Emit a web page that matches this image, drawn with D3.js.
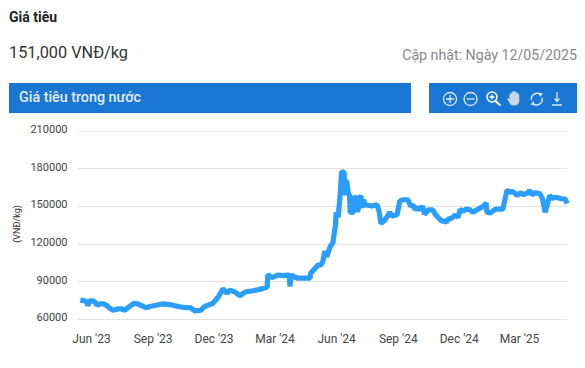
<!DOCTYPE html>
<html><head><meta charset="utf-8">
<script src="https://cdn.jsdelivr.net/npm/d3@7/dist/d3.min.js"></script>
<style>html,body{margin:0;padding:0;background:#fff}svg{display:block}text{font-family:Roboto,sans-serif}</style>
</head><body><svg id="c" width="585" height="368"></svg>
<script>
const dates=["2023-05-16","2023-05-22","2023-05-26","2023-05-27","2023-05-30","2023-06-03","2023-06-07","2023-06-10","2023-06-14","2023-06-20","2023-06-25","2023-06-29","2023-07-04","2023-07-11","2023-07-17","2023-07-22","2023-07-26","2023-08-04","2023-08-10","2023-08-16","2023-08-22","2023-08-28","2023-09-06","2023-09-15","2023-09-27","2023-10-09","2023-10-21","2023-10-27","2023-11-03","2023-11-12","2023-11-18","2023-11-30","2023-12-08","2023-12-15","2023-12-21","2023-12-25","2024-01-02","2024-01-09","2024-01-17","2024-01-29","2024-02-11","2024-02-19","2024-02-20","2024-02-26","2024-03-06","2024-03-14","2024-03-21","2024-03-23","2024-03-24","2024-03-26","2024-03-31","2024-04-05","2024-04-23","2024-04-24","2024-05-05","2024-05-09","2024-05-12","2024-05-15","2024-05-18","2024-05-23","2024-05-27","2024-05-31","2024-06-01","2024-06-04","2024-06-07","2024-06-09","2024-06-13","2024-06-14","2024-06-15","2024-06-17","2024-06-19","2024-06-21","2024-06-22","2024-06-27","2024-06-28","2024-07-01","2024-07-02","2024-07-04","2024-07-05","2024-07-08","2024-07-10","2024-07-12","2024-07-14","2024-07-24","2024-08-01","2024-08-04","2024-08-07","2024-08-13","2024-08-20","2024-08-23","2024-08-31","2024-09-04","2024-09-08","2024-09-16","2024-09-20","2024-09-24","2024-09-27","2024-10-01","2024-10-05","2024-10-08","2024-10-11","2024-10-17","2024-10-23","2024-10-27","2024-10-31","2024-11-06","2024-11-10","2024-11-13","2024-11-15","2024-11-21","2024-11-26","2024-11-30","2024-12-03","2024-12-08","2024-12-12","2024-12-18","2024-12-22","2025-01-02","2025-01-07","2025-01-11","2025-01-12","2025-01-17","2025-01-25","2025-02-05","2025-02-11","2025-02-16","2025-02-20","2025-02-26","2025-03-03","2025-03-08","2025-03-14","2025-03-17","2025-03-20","2025-03-25","2025-04-01","2025-04-05","2025-04-09","2025-04-16","2025-04-20","2025-04-24","2025-05-02","2025-05-09","2025-05-12"];
const prices=[75000,74500,73500,70500,74500,74500,73500,71000,72000,72000,70500,68500,67000,68000,68000,67000,69000,72500,72000,70500,69000,70000,71000,72000,71500,70000,69000,69000,66500,67000,70000,72500,77500,84000,80500,83000,81500,78500,81500,82500,84000,85500,95500,93000,95000,94500,95000,95000,86000,95000,93500,92500,92500,96500,103000,103000,105500,114000,109500,117500,120500,135000,145000,141000,158500,177000,177000,158500,170000,169000,160500,158500,145000,145000,158000,155000,146000,147000,156000,158000,148500,155000,151000,150000,151000,146000,136000,139000,145000,142000,143000,154000,155000,155000,150000,150500,147000,149000,147000,150000,143500,147000,147000,143500,141000,138000,138000,137000,139500,140500,143000,141000,147000,146000,147500,147000,145000,148500,150000,152500,145000,144500,147500,147500,162500,161000,161500,158500,160500,159000,160500,162500,159000,160500,160000,156000,145000,158500,156000,157000,156000,155500,152000];
const yTicks=[60000,90000,120000,150000,180000,210000];
const xTicks=["2023-06-01","2023-09-01","2023-12-01","2024-03-01","2024-06-01","2024-09-01","2024-12-01","2025-03-01"];
const xLabels=["Jun '23","Sep '23","Dec '23","Mar '24","Jun '24","Sep '24","Dec '24","Mar '25"];
const titleText="Giá tiêu",priceText="151,000 VNĐ/kg",updatedText="Cập nhật: Ngày 12/05/2025",panelText="Giá tiêu trong nước",unitText="(VNĐ/kg)";

const p=d3.isoParse;
const svg=d3.select("#c");
const x=d3.scaleTime().domain([p("2023-06-01"),p("2025-03-01")]).range([91,519]);
const y=d3.scaleLinear().domain([60000,210000]).range([319,130.7]);
const L=78,R=567;

svg.append("text").attr("x",9).attr("y",22).attr("font-size",14).attr("font-weight",700).attr("fill","#222").text(titleText);
svg.append("text").attr("x",9).attr("y",58).attr("font-size",16.3).attr("fill","#333").text(priceText);
svg.append("text").attr("x",577).attr("y",60).attr("text-anchor","end").attr("font-size",14.2).attr("fill","#888").text(updatedText);
svg.append("rect").attr("x",9).attr("y",83).attr("width",402).attr("height",30).attr("fill","#1976d2");
svg.append("rect").attr("x",429).attr("y",83).attr("width",148).attr("height",30).attr("fill","#1976d2");
svg.append("text").attr("x",19).attr("y",102).attr("font-size",14.3).attr("font-weight",500).attr("fill","#e3eefa").text(panelText);

// toolbar icons
const ic="#dbe8f6";
const t=svg.append("g").attr("fill","none").attr("stroke",ic).attr("stroke-width",1.3);
t.append("circle").attr("cx",450).attr("cy",99).attr("r",6.5);
t.append("path").attr("d","M446 99H454M450 95V103");
t.append("circle").attr("cx",470.5).attr("cy",99).attr("r",6.5);
t.append("path").attr("d","M466.5 99H474.5");
t.append("circle").attr("cx",492).attr("cy",97).attr("r",5).attr("stroke","#fff").attr("stroke-width",1.6);
t.append("path").attr("stroke","#fff").attr("d","M489.5 97H494.5M492 94.5V99.5");
t.append("path").attr("stroke","#fff").attr("d","M495.5 101L500.5 105.5").attr("stroke-width",2);
t.append("path").attr("stroke","none").attr("fill","#c8d6e6").attr("d","M509.5 99V94Q510.5 92.8 511.5 94V92Q512.5 90.8 513.5 92V91.5Q514.5 90.3 515.5 91.5V92.5Q516.5 91.3 517.5 92.5V94Q518.5 93.3 519.3 94.5V101Q518.5 105.5 514.5 105.5H513Q510.5 105.5 509 102L507 99Q507.5 97.5 509.5 99Z");
t.append("path").attr("stroke-width",1.5).attr("d","M531.5 100A5.5 5.5 0 0 1 540.5 94.8M542 98A5.5 5.5 0 0 1 533 103.5");
t.append("path").attr("stroke","none").attr("fill",ic).attr("d","M538.5 92.5L543 93.5L540 97ZM535 105.5L530.5 104.5L533.5 101Z");
t.append("path").attr("d","M557 92V101M554.5 98.5L557 101.5L559.5 98.5M552 105H562");

// grid + y axis
const yAxis=d3.axisLeft(y).tickValues(yTicks).tickSize(0).tickPadding(0).tickFormat(d=>String(d));
const gy=svg.append("g").attr("transform","translate(67.5,-1.5)").call(yAxis);
gy.select(".domain").remove();
gy.selectAll("text").attr("font-size",11).attr("fill","#444").attr("font-family","Roboto,sans-serif").attr("dy","0.3em");
svg.append("g").selectAll("line").data(yTicks).join("line")
 .attr("x1",L).attr("x2",R).attr("y1",d=>Math.round(y(d))+.5).attr("y2",d=>Math.round(y(d))+.5)
 .attr("stroke",d=>d===210000?"#f1f1f1":"#e2e2e2");

// x axis
const xAxis=d3.axisBottom(x).tickValues(xTicks.map(p)).tickSize(0).tickPadding(0).tickFormat((d,i)=>xLabels[i]);
const gx=svg.append("g").attr("transform","translate(0,334)").call(xAxis);
gx.select(".domain").remove();
gx.selectAll("text").attr("font-size",12).attr("fill","#444").attr("font-family","Roboto,sans-serif");

svg.append("text").attr("transform","translate(20,224) rotate(-90)").attr("text-anchor","middle").attr("font-size",9).attr("fill","#333").text(unitText);

const line=d3.line().x((d,i)=>x(p(dates[i]))).y(d=>y(d));
svg.append("path").datum(prices).attr("fill","none").attr("stroke","#2b9dfb").attr("stroke-width",5.2).attr("stroke-linejoin","bevel").attr("d",line);
</script></body></html>
